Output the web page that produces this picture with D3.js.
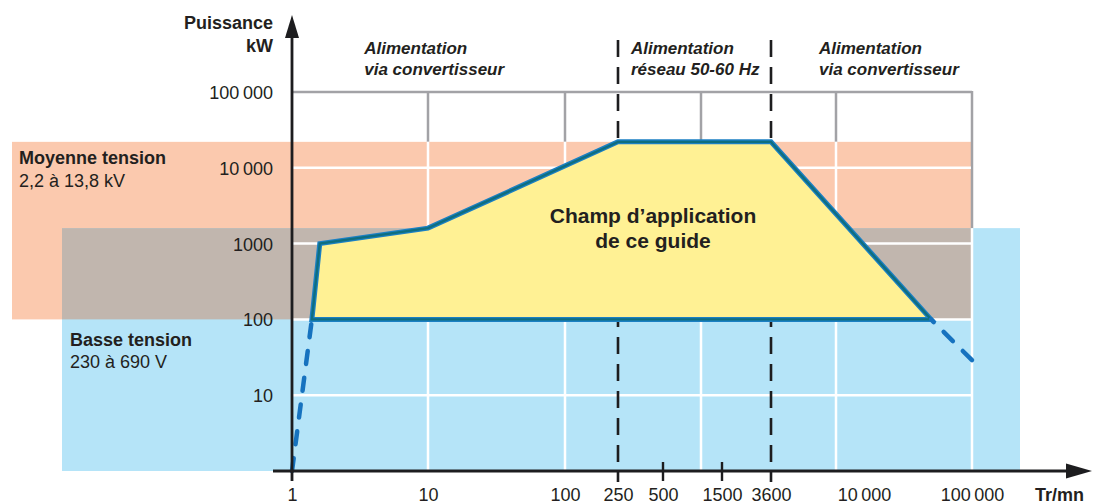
<!DOCTYPE html>
<html>
<head>
<meta charset="utf-8">
<script src="https://cdn.jsdelivr.net/npm/d3@7"></script>
<style>
body { margin: 0; background: #fff; }
text { font-family: "Liberation Sans", Arial, sans-serif; fill: #231f20; }
</style>
</head>
<body>
<div id="chart-area"></div>
<script>
// speed axis (Tr/mn)
var xTicks = [1, 10, 100, 250, 500, 1500, 3600, 10000, 100000];
var xTickLabels = ["1", "10", "100", "250", "500", "1500", "3600", "10\u2009000", "100\u2009000"];
var xGrid = [10, 100, 1000, 10000, 100000];
var netSpeeds = [250, 3600];      // dashed limits of the 50-60 Hz zone
var minorTicks = [500, 1500];

// power axis (kW)
var yTicks = [10, 100, 1000, 10000, 100000];
var yTickLabels = ["10", "100", "1000", "10\u2009000", "100\u2009000"];

// voltage bands (kW)
var mvPower = [100, 22000];   // Moyenne tension
var lvPower = [1, 1600];      // Basse tension

// field of application outline
var fieldSpeed = [1.4, 1.6, 10, 250, 3600, 50000];
var fieldPower = [100, 1000, 1600, 22000, 22000, 100];

// dashed extensions
var leftExtSpeed = [1, 1.4];
var leftExtPower = [1, 100];
var rightExtSpeed = [100000, 50000];
var rightExtPower = [29, 100];

var topLabels = [
	{speed: 3.4, lines: ["Alimentation", "via convertisseur"]},
	{speed: 305, lines: ["Alimentation", "réseau 50-60 Hz"]},
	{speed: 7650, lines: ["Alimentation", "via convertisseur"]}
];

var width = 1098, height = 504;

var svg = d3.select("#chart-area")
	.append("svg")
		.attr("width", width)
		.attr("height", height);

// the speed axis is not a clean log scale, so pin the printed ticks
var x = d3.scaleLog()
	.domain([1, 10, 100, 250, 500, 1000, 1500, 3600, 10000, 100000])
	.range([292, 428, 565, 618, 663, 701, 722, 771, 836, 972]);

var y = d3.scaleLog()
	.domain([1, 100000])
	.range([471, 92]);

var orange = "#fbc9ae", blue = "#b5e4f8", greyBand = "#c1b6ae";

//bands
svg.append("rect")
	.attr("x", 12).attr("y", y(mvPower[1]))
	.attr("width", x(100000) - 12)
	.attr("height", y(mvPower[0]) - y(mvPower[1]))
	.attr("fill", orange);

svg.append("rect")
	.attr("x", 62).attr("y", y(lvPower[1]))
	.attr("width", 1020 - 62)
	.attr("height", y(lvPower[0]) - y(lvPower[1]))
	.attr("fill", blue);

svg.append("rect")
	.attr("x", 62).attr("y", y(lvPower[1]))
	.attr("width", x(100000) - 62)
	.attr("height", y(mvPower[0]) - y(lvPower[1]))
	.attr("fill", greyBand);

//grid
var grid = svg.append("g");
grid.append("line")
	.attr("x1", x(1)).attr("x2", x(100000))
	.attr("y1", y(100000)).attr("y2", y(100000))
	.attr("stroke", "#a2a2a6").attr("stroke-width", 2.5);

xGrid.forEach(function(v){
	var colourTop = (v == 100000) ? y(lvPower[1]) : y(mvPower[1]);
	grid.append("line")
		.attr("x1", x(v)).attr("x2", x(v))
		.attr("y1", y(100000) - 1).attr("y2", colourTop)
		.attr("stroke", "#a2a2a6").attr("stroke-width", 2.5);
	grid.append("line")
		.attr("x1", x(v)).attr("x2", x(v))
		.attr("y1", colourTop).attr("y2", y(1))
		.attr("stroke", "#fff").attr("stroke-width", 2.5);
});

yTicks.slice(0, 4).forEach(function(v){
	grid.append("line")
		.attr("x1", x(1)).attr("x2", x(100000) - 1)
		.attr("y1", y(v)).attr("y2", y(v))
		.attr("stroke", "#fff").attr("stroke-width", 2.5);
});

//dashed limits of the network zone
netSpeeds.forEach(function(v){
	svg.append("line")
		.attr("x1", x(v)).attr("x2", x(v))
		.attr("y1", 40).attr("y2", 482)
		.attr("stroke", "#1d1d1f")
		.attr("stroke-width", 2.6)
		.attr("stroke-dasharray", "17,10");
});

minorTicks.forEach(function(v){
	svg.append("line")
		.attr("x1", x(v)).attr("x2", x(v))
		.attr("y1", 462).attr("y2", 481)
		.attr("stroke", "#1d1d1f")
		.attr("stroke-width", 2.4);
});

//field of application
var fieldPts = fieldSpeed.map(function(s, i){ return [x(s), y(fieldPower[i])]; });
var line = d3.line();

svg.append("path")
	.attr("d", line(fieldPts) + "Z")
	.attr("fill", "#fff194")
	.attr("stroke", "#1b80c4")
	.attr("stroke-width", 5)
	.attr("stroke-linejoin", "miter");

svg.append("path")
	.attr("d", line(fieldPts) + "Z")
	.attr("fill", "none")
	.attr("stroke", "#0f6e80")
	.attr("stroke-width", 2.4);

//dashed extensions
[[leftExtSpeed, leftExtPower], [rightExtSpeed, rightExtPower]].forEach(function(ext){
	svg.append("path")
		.attr("d", line(ext[0].map(function(s, i){ return [x(s), y(ext[1][i])]; })))
		.attr("fill", "none")
		.attr("stroke", "#1672bf")
		.attr("stroke-width", 4.5)
		.attr("stroke-linecap", "round")
		.attr("stroke-dasharray", "13,14");
});

//axes
var ink = "#1d1d1f";
svg.append("line")
	.attr("x1", 273).attr("x2", 1072)
	.attr("y1", y(1)).attr("y2", y(1))
	.attr("stroke", ink).attr("stroke-width", 2.8);
svg.append("path")
	.attr("d", "M1092," + y(1) + "L1066," + (y(1) - 7.5) + "L1066," + (y(1) + 7.5) + "Z")
	.attr("fill", ink);

svg.append("line")
	.attr("x1", x(1)).attr("x2", x(1))
	.attr("y1", 481).attr("y2", 32)
	.attr("stroke", ink).attr("stroke-width", 2.8);
svg.append("path")
	.attr("d", "M" + x(1) + ",15L" + (x(1) - 7) + ",38L" + (x(1) + 7) + ",38Z")
	.attr("fill", ink);

var xAxisCall = d3.axisBottom(x)
	.tickValues(xTicks)
	.tickSize(0)
	.tickFormat(function(d, i){ return xTickLabels[i]; });
var xAxis = svg.append("g")
	.attr("transform", "translate(0," + y(1) + ")")
	.call(xAxisCall);
xAxis.select(".domain").remove();
xAxis.selectAll("text")
	.attr("y", 30).attr("dy", 0)
	.attr("dx", function(d){ return d == 10000 ? 28 : 0; })
	.attr("font-size", "18px")
	.attr("fill", null);
xAxis.attr("font-family", null);

var yAxisCall = d3.axisLeft(y)
	.tickValues(yTicks)
	.tickSize(0)
	.tickPadding(19)
	.tickFormat(function(d, i){ return yTickLabels[i]; });
var yAxis = svg.append("g")
	.attr("transform", "translate(" + x(1) + ",0)")
	.call(yAxisCall);
yAxis.select(".domain").remove();
yAxis.attr("font-family", null);
yAxis.selectAll("text")
	.attr("dy", "0.36em")
	.attr("font-size", "18px")
	.attr("fill", null);

//labels
svg.append("text")
	.attr("x", 273).attr("y", 29)
	.attr("text-anchor", "end")
	.attr("font-size", "18px").attr("font-weight", "bold")
	.text("Puissance");
svg.append("text")
	.attr("x", 273).attr("y", 52)
	.attr("text-anchor", "end")
	.attr("font-size", "18px").attr("font-weight", "bold")
	.text("kW");

svg.append("text")
	.attr("x", 1035).attr("y", 501)
	.attr("font-size", "18px").attr("font-weight", "bold")
	.text("Tr/mn");

svg.append("text")
	.attr("x", 19).attr("y", 164)
	.attr("font-size", "18px").attr("font-weight", "bold")
	.text("Moyenne tension");
svg.append("text")
	.attr("x", 19).attr("y", 187)
	.attr("font-size", "18px")
	.text("2,2 à 13,8 kV");

svg.append("text")
	.attr("x", 70).attr("y", 346)
	.attr("font-size", "18px").attr("font-weight", "bold")
	.text("Basse tension");
svg.append("text")
	.attr("x", 70).attr("y", 368)
	.attr("font-size", "18px")
	.text("230 à 690 V");

topLabels.forEach(function(lab){
	lab.lines.forEach(function(t, i){
		svg.append("text")
			.attr("x", x(lab.speed)).attr("y", 54 + i * 21)
			.attr("font-size", "17px")
			.attr("font-weight", "bold")
			.attr("font-style", "italic")
			.text(t);
	});
});

svg.append("text")
	.attr("x", 653).attr("y", 223)
	.attr("text-anchor", "middle")
	.attr("font-size", "21px").attr("font-weight", "bold")
	.text("Champ d\u2019application");
svg.append("text")
	.attr("x", 653).attr("y", 248)
	.attr("text-anchor", "middle")
	.attr("font-size", "21px").attr("font-weight", "bold")
	.text("de ce guide");
</script>
</body>
</html>
